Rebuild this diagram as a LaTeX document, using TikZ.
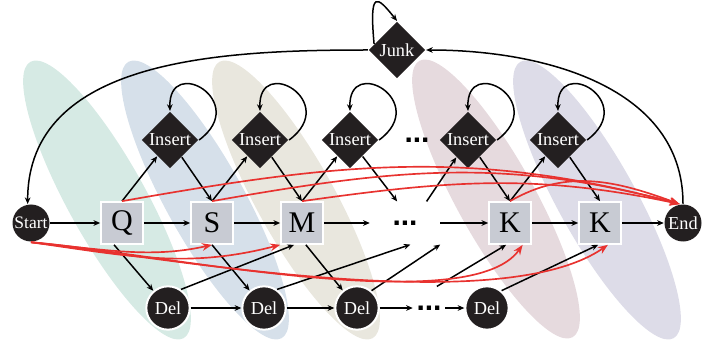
\documentclass[tikz,border=0pt]{standalone}
\usepackage{fontspec}
\setmainfont{Liberation Serif}
\setsansfont{Liberation Sans}
\usetikzlibrary{shapes.geometric,arrows.meta,positioning}
\definecolor{nodeblack}{RGB}{35,31,32}
\definecolor{matchgray}{RGB}{200,203,211}
\definecolor{jumpred}{RGB}{232,50,47}
\definecolor{bandgreen}{RGB}{214,234,228}
\definecolor{bandblue}{RGB}{214,224,234}
\definecolor{bandbeige}{RGB}{233,231,222}
\definecolor{bandpink}{RGB}{230,218,222}
\definecolor{bandlilac}{RGB}{221,220,232}
\tikzstyle{band} = [ellipse,minimum width=189.6pt,minimum height=46.8pt,rotate=-61,inner sep=0pt]
\tikzstyle{match} = [draw=white,line width=1.2pt,rectangle,fill=matchgray,minimum size=25pt,inner sep=0pt,font=\fontsize{18}{18}\selectfont]
\tikzstyle{ins} = [diamond,aspect=1,fill=nodeblack,text=white,minimum size=34pt,inner sep=0pt,font=\fontsize{11}{11}\selectfont]
\tikzstyle{del} = [draw=white,line width=1.2pt,circle,fill=nodeblack,text=white,minimum size=26pt,inner sep=0pt,font=\fontsize{11}{11}\selectfont]
\tikzstyle{terminal} = [circle,fill=nodeblack,text=white,minimum size=22.2pt,inner sep=0pt,font=\fontsize{10.5}{10.5}\selectfont]
\tikzstyle{dots} = [minimum height=25pt,inner sep=0pt,font=\fontsize{18}{18}\selectfont\sffamily\bfseries]
\tikzstyle{jump} = [draw=jumpred,line width=1pt,-{Stealth[length=6pt,width=4.6pt]}]

\begin{document}
\begin{tikzpicture}[auto,node distance=54pt,>={Stealth[length=4pt,width=3.4pt]},line width=0.9pt]
  \useasboundingbox (-18.6pt,-72pt) rectangle (408.6pt,133.8pt);

  %bands
  \node[band,fill=bandgreen] (b1) at (45.6pt,13.8pt) {};
  \node[band,fill=bandblue] (b2) at (104.4pt,13.8pt) {};
  \node[band,fill=bandbeige] (b3) at (159pt,13.8pt) {};
  \node[band,fill=bandpink] (b4) at (279pt,14.4pt) {};
  \node[band,fill=bandlilac] (b5) at (339.6pt,13.8pt) {};

  %match row
  \node[terminal] (start) at (0,0) {Start};
  \node[match,right of=start,node distance=54.6pt] (q) {Q};
  \node[match,right of=q] (s) {S};
  \node[match,right of=s] (m) {M};
  \node[dots,minimum width=41.4pt,right of=m,node distance=61.8pt] (mdots) {...};
  \node[match,right of=mdots,node distance=63pt] (k1) {K};
  \node[match,right of=k1] (k2) {K};
  \node[terminal,right of=k2,node distance=49.8pt,font=\fontsize{11}{11}\selectfont] (end) {End};

  %inserts
  \node[ins,above of=q,node distance=49.8pt,xshift=28.8pt] (i0) {Insert};
  \node[ins,right of=i0] (i1) {Insert};
  \node[ins,right of=i1] (i2) {Insert};
  \node[dots,right of=i2,node distance=40.2pt] (idots) {...};
  \node[ins,right of=idots,node distance=30.6pt] (i4) {Insert};
  \node[ins,right of=i4] (i5) {Insert};

  %junk
  \node[ins,above of=idots,xshift=-12pt] (junk) {Junk};

  %deletes
  \node[del,below of=q,node distance=51pt,xshift=27.6pt] (d1) {Del};
  \node[del,right of=d1,node distance=57.6pt] (d2) {Del};
  \node[del,right of=d2,node distance=55.8pt] (d3) {Del};
  \node[dots,right of=d3,node distance=43.2pt,minimum width=18.6pt] (ddots) {...};
  \node[del,right of=ddots,node distance=34.8pt] (d4) {Del};

  %draw the arrows
  \draw[->] (start) -- (q);
  \draw[->] (q) -- (s);
  \draw[->] (s) -- (m);
  \draw[->] (m) -- (mdots);
  \draw[->] (mdots) -- (k1);
  \draw[->] (k1) -- (k2);
  \draw[->] (k2) -- (end);

  %insert arrows
  \draw[->] (q.north) -- (i0);
  \draw[->] (i0) -- (s.north);
  \draw[->] (s.north) -- (i1);
  \draw[->] (i1) -- (m.north);
  \draw[->] (m.north) -- (i2);
  \draw[->] (i2) -- (mdots.110);
  \draw[->] (mdots.45) -- (i4);
  \draw[->] (i4) -- (k1.north);
  \draw[->] (k1.north) -- (i5);
  \draw[->] (i5) -- (k2.north);

  %insert loops
  \draw[->] (i0.east) .. controls +(31pt,23pt) and +(-1pt,34pt) .. (i0.north);
  \draw[->] (i1.east) .. controls +(31pt,23pt) and +(-1pt,34pt) .. (i1.north);
  \draw[->] (i2.east) .. controls +(31pt,23pt) and +(-1pt,34pt) .. (i2.north);
  \draw[->] (i4.east) .. controls +(31pt,23pt) and +(-1pt,34pt) .. (i4.north);
  \draw[->] (i5.east) .. controls +(31pt,23pt) and +(-1pt,34pt) .. (i5.north);

  %junk arrows
  \draw[->] (junk.165) .. controls +(-3pt,33pt) and +(-12pt,15pt) .. (junk.north);
  \draw[->] (end.north) to[out=90,in=0] (junk.east);
  \draw[->] (junk.west) to[out=180,in=90] (start.100);

  %delete arrows
  \draw[->] (q.250) -- (d1);
  \draw[->] (s.south) -- (d2);
  \draw[->] (m.280) -- (d3);
  \draw[->] (d1) -- (d2);
  \draw[->] (d2) -- (d3);
  \draw[->] (d3) -- (ddots);
  \draw[->] (ddots) -- (d4);
  \draw[->] (d1.55) -- (m.250);
  \draw[->] (d2.55) -- (mdots.284);
  \draw[->] (d3.50) -- (mdots.south east);
  \draw[->] (ddots.70) -- (k1.260);
  \draw[->] (d4.50) -- (k2.265);

  %jumps
  \draw[jump] (start.south) .. controls +(43.2pt,-4.2pt) and +(-37.2pt,-8.4pt) .. (s.south);
  \draw[jump] (start.south) .. controls +(59.4pt,-8.4pt) and +(-55.8pt,-14.4pt) .. (m.south west);
  \draw[jump] (start.south) .. controls +(73.2pt,-6pt) and +(-31.8pt,-45.6pt) .. (k1.300);
  \draw[jump] (start.south) .. controls +(85.2pt,-10.2pt) and +(-64.2pt,-44.4pt) .. (k2.290);
  \draw[jump] (q.north) to[out=10,in=165] (end.100);
  \draw[jump] (s.north) to[out=10,in=165] (end.100);
  \draw[jump] (m.north) to[out=8,in=168] (end.100);
  \draw[jump] (k1.north) to[out=30,in=160] (end.100);

\end{tikzpicture}
\end{document}
